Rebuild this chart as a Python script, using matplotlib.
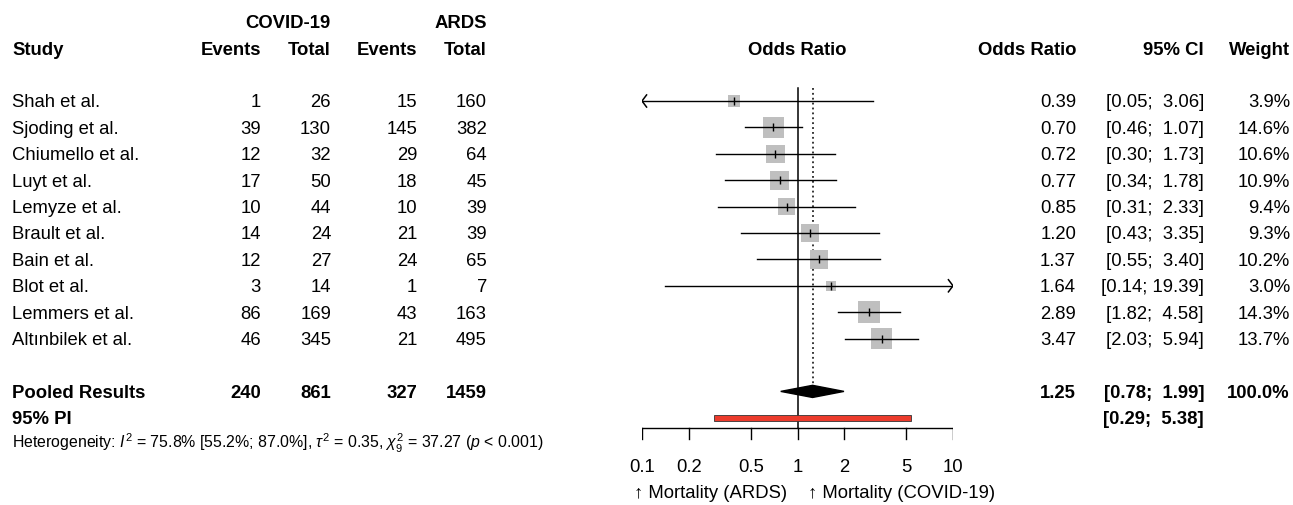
import numpy as np
import matplotlib
matplotlib.use('Agg')
import matplotlib.pyplot as plt

plt.rcParams['font.family'] = ['Liberation Sans', 'DejaVu Sans']
plt.rcParams['mathtext.fontset'] = 'custom'
plt.rcParams['mathtext.rm'] = 'Liberation Sans'
plt.rcParams['mathtext.it'] = 'Liberation Sans:italic'

# === Data ===
studies = ['Shah et al.', 'Sjoding et al.', 'Chiumello et al.', 'Luyt et al.', 'Lemyze et al.',
           'Brault et al.', 'Bain et al.', 'Blot et al.', 'Lemmers et al.', 'Altınbilek et al.']
covid_events = [1, 39, 12, 17, 10, 14, 12, 3, 86, 46]
covid_total = [26, 130, 32, 50, 44, 24, 27, 14, 169, 345]
ards_events = [15, 145, 29, 18, 10, 21, 24, 1, 43, 21]
ards_total = [160, 382, 64, 45, 39, 39, 65, 7, 163, 495]
odds_ratio = [0.39, 0.70, 0.72, 0.77, 0.85, 1.20, 1.37, 1.64, 2.89, 3.47]
ci_low = [0.05, 0.46, 0.30, 0.34, 0.31, 0.43, 0.55, 0.14, 1.82, 2.03]
ci_high = [3.06, 1.07, 1.73, 1.78, 2.33, 3.35, 3.40, 19.39, 4.58, 5.94]
weights = [3.9, 14.6, 10.6, 10.9, 9.4, 9.3, 10.2, 3.0, 14.3, 13.7]

pooled_totals = [240, 861, 327, 1459]
pooled_or, pooled_lo, pooled_hi = 1.25, 0.78, 1.99
pi_lo, pi_hi = 0.29, 5.38
xticks = [0.1, 0.2, 0.5, 1, 2, 5, 10]

# === Layout (row units, pixel x) ===
W, H = 1293, 505
row0_px, row_px = 101, 26.4
ytop = -row0_px / row_px
ybot = (H - row0_px) / row_px
x_lo_px, x_hi_px = 642, 953
t_off = 0.07  # small nudge so text sits on the row like the reference

fig = plt.figure(figsize=(W / 100, H / 100), dpi=100)
bg = fig.add_axes([0, 0, 1, 1])
bg.set_xlim(0, W)
bg.set_ylim(ybot, ytop)
bg.axis('off')

ax = fig.add_axes([x_lo_px / W, 0, (x_hi_px - x_lo_px) / W, 1])
ax.set_xscale('log')
ax.set_xlim(0.1, 10)
ax.set_ylim(ybot, ytop)
ax.axis('off')
ax.patch.set_alpha(0)

fs = 13.3
bold = dict(fontsize=fs, fontweight='bold', va='center')
norm = dict(fontsize=fs, va='center')

# --- Headers ---
hy1, hy2 = -3 + t_off, -2 + t_off
bg.text(331, hy1, 'COVID-19', ha='right', **bold)
bg.text(487, hy1, 'ARDS', ha='right', **bold)
bg.text(12, hy2, 'Study', ha='left', **bold)
for xr, lab in zip([261, 331, 417, 487], ['Events', 'Total', 'Events', 'Total']):
    bg.text(xr, hy2, lab, ha='right', **bold)
bg.text(797, hy2, 'Odds Ratio', ha='center', **bold)
bg.text(1076, hy2, 'Odds Ratio', ha='right', **bold)
bg.text(1204, hy2, '95% CI', ha='right', **bold)
bg.text(1290, hy2, 'Weight', ha='right', **bold)

# --- Study rows ---
for i, name in enumerate(studies):
    ty = i + t_off
    bg.text(12, ty, name, ha='left', **norm)
    for xr, v in zip([261, 331, 417, 487],
                     [covid_events[i], covid_total[i], ards_events[i], ards_total[i]]):
        bg.text(xr, ty, str(v), ha='right', **norm)
    bg.text(1076, ty, f'{odds_ratio[i]:.2f}', ha='right', **norm)
    hi_s = f'{ci_high[i]:.2f}'
    sep = '; ' if len(hi_s) > 4 else ';  '
    bg.text(1204, ty, f'[{ci_low[i]:.2f}{sep}{hi_s}]', ha='right', **norm)
    bg.text(1290, ty, f'{weights[i]:.1f}%', ha='right', **norm)

# --- Pooled rows ---
k = len(studies)
py = k + 1 + t_off
bg.text(12, py, 'Pooled Results', ha='left', **bold)
for xr, v in zip([261, 331, 417, 487], pooled_totals):
    bg.text(xr, py, str(v), ha='right', **bold)
bg.text(1076, py, f'{pooled_or:.2f}', ha='right', **bold)
bg.text(1204, py, f'[{pooled_lo:.2f};  {pooled_hi:.2f}]', ha='right', **bold)
bg.text(1290, py, '100.0%', ha='right', **bold)
bg.text(12, py + 1, '95% PI', ha='left', **bold)
bg.text(1204, py + 1, f'[{pi_lo:.2f};  {pi_hi:.2f}]', ha='right', **bold)
bg.text(12, k + 3 - 0.03, r'Heterogeneity: $I^2$ = 75.8% [55.2%; 87.0%], $\tau^2$ = 0.35, '
        r'$\chi^2_9$ = 37.27 ($p$ < 0.001)', ha='left', fontsize=11.4, va='center')

# --- Forest plot ---
axis_y = 12.4
ax.plot([1, 1], [-0.5, axis_y], color='black', lw=1.1)
ax.plot([pooled_or, pooled_or], [-0.5, k + 0.8], color='black', lw=1.1, ls=(0, (1.2, 2)))

for i in range(k):
    lo = max(ci_low[i], 0.1)
    hi = min(ci_high[i], 10)
    side_px = 5.7 * np.sqrt(weights[i])
    ax.scatter(odds_ratio[i], i, marker='s', s=(side_px * 0.72) ** 2,
               color='#bfbfbf', edgecolors='none', zorder=2)
    ax.plot([lo, hi], [i, i], color='black', lw=1, zorder=3)
    ax.plot(odds_ratio[i], i, marker='|', color='black', ms=5.5, mew=1, zorder=4)
    if ci_low[i] < 0.1:
        ax.plot([0.1 * 1.07, 0.1, 0.1 * 1.07], [i - 0.23, i, i + 0.23], color='black', lw=1.1, zorder=3)
    if ci_high[i] > 10:
        ax.plot([10 / 1.07, 10, 10 / 1.07], [i - 0.23, i, i + 0.23], color='black', lw=1.1, zorder=3)

# diamond
dy = 0.23
ax.fill([pooled_lo, pooled_or, pooled_hi, pooled_or], [k + 1, k + 1 - dy, k + 1, k + 1 + dy],
        color='black', zorder=3)
# prediction interval
ax.fill([pi_lo, pi_hi, pi_hi, pi_lo], [k + 1.9, k + 1.9, k + 2.12, k + 2.12],
        facecolor='#ec3b2c', edgecolor='#333333', lw=0.6, zorder=3)

# x axis
ax.plot([0.1, 10], [axis_y, axis_y], color='black', lw=1)
for t in xticks:
    ax.plot([t, t], [axis_y, axis_y + 0.42], color='black', lw=1)
    ax.text(t, 13.9, f'{t:g}', ha='center', va='center', fontsize=fs)

bg.text(787, 14.85, '↑ Mortality (ARDS)', ha='right', va='center', fontsize=fs)
bg.text(808, 14.85, '↑ Mortality (COVID-19)', ha='left', va='center', fontsize=fs)

fig.savefig('out.png', dpi=100)
